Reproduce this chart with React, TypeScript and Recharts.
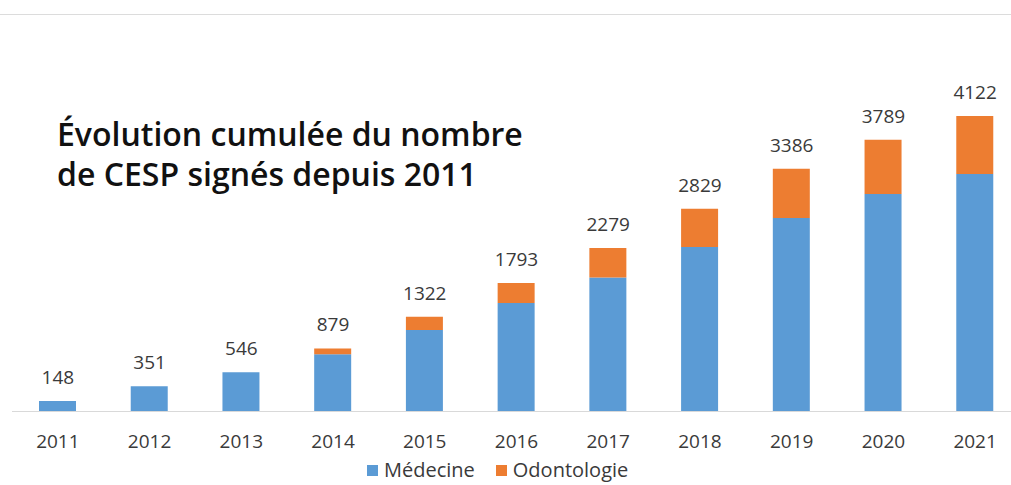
import React from 'react';
import { ComposedChart, Bar, Line, XAxis, YAxis, Legend, LabelList } from 'recharts';

const years = ['2011', '2012', '2013', '2014', '2015', '2016', '2017', '2018', '2019', '2020', '2021'];
const medecine = [148, 351, 546, 799, 1138, 1512, 1870, 2294, 2699, 3034, 3314];
const odontologie = [0, 0, 0, 80, 184, 281, 409, 535, 687, 755, 808];
const totals = [148, 351, 546, 879, 1322, 1793, 2279, 2829, 3386, 3789, 4122];

const data = years.map((year, i) => ({
    year,
    medecine: medecine[i],
    odontologie: odontologie[i],
    total: totals[i],
}));

const BLUE = '#5B9BD5';
const ORANGE = '#ED7D31';
const TEXT = '#3a3a3a';
const FONT = '"Open Sans", "Noto Sans", sans-serif';

const LegendContent = () => (
    <div style={{ display: 'flex', alignItems: 'center', fontFamily: FONT, fontSize: 20, lineHeight: '22px', color: TEXT, whiteSpace: 'nowrap' }}>
        <span style={{ width: 11, height: 11, background: BLUE, display: 'inline-block', marginRight: 6 }} />
        <span style={{ marginRight: 21 }}>Médecine</span>
        <span style={{ width: 11, height: 11, background: ORANGE, display: 'inline-block', marginRight: 6 }} />
        <span>Odontologie</span>
    </div>
);

const App: React.FC = () => {
    return (
        <div style={{ position: 'absolute', left: 0, top: 0, width: 1011, height: 485, background: '#fff', overflow: 'hidden' }}>
            <div style={{ position: 'absolute', left: 0, top: 14, width: 1011, height: 0, borderTop: '1px solid #dcdcdc' }} />
            <div
                style={{
                    position: 'absolute',
                    left: 57,
                    top: 114,
                    fontFamily: FONT,
                    fontWeight: 600,
                    fontSize: 32,
                    lineHeight: '40px',
                    color: '#111',
                    zIndex: 2,
                    whiteSpace: 'nowrap',
                }}
            >
                Évolution cumulée du nombre
                <br />
                de CESP signés depuis 2011
            </div>
            <ComposedChart
                width={1011}
                height={485}
                data={data}
                margin={{ top: 53, right: -10, left: 12, bottom: 43.5 }}
            >
                <XAxis
                    dataKey="year"
                    height={30}
                    tickLine={false}
                    tickMargin={17}
                    axisLine={{ stroke: '#d9d9d9' }}
                    tick={{ fill: TEXT, fontSize: 19, fontFamily: FONT }}
                    interval={0}
                />
                <YAxis hide domain={[0, 5000]} width={0} />
                <Legend
                    layout="horizontal"
                    verticalAlign="middle"
                    content={<LegendContent />}
                    wrapperStyle={{ position: 'absolute', top: 459, left: 367, width: 'auto' }}
                />
                <Bar dataKey="medecine" name="Médecine" stackId="a" fill={BLUE} barSize={37} isAnimationActive={false} />
                <Bar dataKey="odontologie" name="Odontologie" stackId="a" fill={ORANGE} barSize={37} isAnimationActive={false} />
                <Line
                    dataKey="total"
                    stroke="none"
                    dot={false}
                    activeDot={false}
                    legendType="none"
                    isAnimationActive={false}
                >
                    <LabelList
                        dataKey="total"
                        position="top"
                        offset={17}
                        style={{ fill: TEXT, fontSize: 19, fontFamily: FONT }}
                    />
                </Line>
            </ComposedChart>
        </div>
    );
};

export default App;
